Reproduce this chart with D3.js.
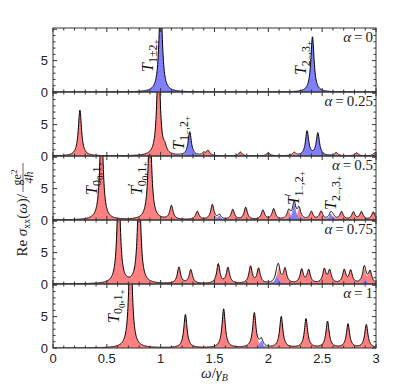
<!DOCTYPE html>
<html>
<head>
<meta charset="utf-8">
<script src="https://cdn.jsdelivr.net/npm/d3@7"></script>
<style>
  body { margin: 0; background: #fff; }
  svg { display: block; }
</style>
</head>
<body>
<div id="chart"></div>
<script>
// alpha value of every panel, top to bottom
const alphaLabels = ["0", "0.25", "0.5", "0.75", "1"];

// red (even) transitions per panel: [omega, peak height]
const redPeaks = [
    [],
    [[0.25, 7.3], [0.98, 16], [1.04, 0.9], [1.40, 0.4], [1.44, 0.8], [1.74, 0.6],
     [2.00, 0.5], [2.24, 0.5], [2.63, 0.5], [2.82, 0.5], [2.99, 0.5]],
    [[0.45, 16], [0.90, 16], [1.10, 2.2], [1.34, 1.3], [1.48, 2.4], [1.67, 1.6],
     [1.79, 1.95], [1.95, 1.5], [2.05, 1.7], [2.19, 1.35], [2.285, 1.7], [2.40, 1.25],
     [2.49, 1.3], [2.60, 0.5], [2.68, 1.25], [2.79, 1.2], [2.865, 1.25], [2.975, 1.25]],
    [[0.61, 16], [0.80, 16], [1.17, 2.6], [1.28, 2.2], [1.535, 3.1], [1.625, 2.5],
     [1.835, 2.7], [1.91, 2.35], [2.095, 2.2], [2.155, 2.3], [2.31, 2.2], [2.375, 2.1],
     [2.52, 2.2], [2.57, 2.0], [2.705, 2.1], [2.765, 2.0], [2.89, 2.2], [2.945, 1.9]],
    [[0.72, 18], [1.23, 5.3], [1.585, 6.2], [1.87, 5.5], [2.12, 4.95], [2.35, 4.6],
     [2.55, 4.2], [2.74, 3.8], [2.91, 3.7]]
];

// blue (odd) transitions per panel: [omega, peak height]
const bluePeaks = [
    [[1.0, 15], [2.41, 8.8]],
    [[1.27, 3.8], [2.36, 3.9], [2.46, 3.6]],
    [[1.545, 0.7], [2.24, 2.6], [2.58, 1.0]],
    [[2.08, 1.3], [2.90, 0.6]],
    [[1.935, 1.2]]
];

// peak labels: [panel, omega, value, subscript, primed]
// braces in the subscript mark a second subscript level
const peakLabels = [
    [0, 0.93, 3.2, "1±2{+}", false],
    [0, 2.35, 2.7, "2{−},3{+}", false],
    [1, 1.22, 0.96, "1{−},2{+}", false],
    [2, 0.41, 4.0, "0{0},1{+}", false],
    [2, 0.83, 4.0, "0{0},1{+}", true],
    [2, 2.285, 2.4, "1{−},2{+}", true],
    [2, 2.63, 1.6, "2{−},3{+}", false],
    [4, 0.61, 4.0, "0{0},1{+}", false]
];

const xTicks = [0, 0.5, 1, 1.5, 2, 2.5, 3];
const xTickLabels = ["0", "0.5", "1", "1.5", "2", "2.5", "3"];
const yTicks = [0, 5];

// dimensions
const width = 415;
const height = 391;
const plotLeft = 53, plotRight = 376;
const plotTop = 28;
const panelH = 64;
const yMax = 10.2;
const gamma = 0.018;   // lorentzian half width
const tickColor = "#333";

const svg = d3.select("#chart")
    .append("svg")
    .attr("width", width)
    .attr("height", height);

const x = d3.scaleLinear().domain([0, 3]).range([plotLeft, plotRight]);
const grid = d3.range(0, 3.0001, 0.002);

// sum of lorentzian lines
const spectrum = (peaks, w) => d3.sum(peaks, p => p[1] / (1 + ((w - p[0]) / gamma) ** 2));

alphaLabels.forEach((alpha, i) => {
    const y0 = plotTop + i * panelH;
    const y = d3.scaleLinear().domain([0, yMax]).range([y0 + panelH, y0]);
    const g = svg.append("g");

    g.append("clipPath")
        .attr("id", "clip" + i)
        .append("rect")
        .attr("x", plotLeft).attr("y", y0)
        .attr("width", plotRight - plotLeft).attr("height", panelH);

    const pts = grid.map(w => {
        const r = spectrum(redPeaks[i], w);
        const b = spectrum(bluePeaks[i], w);
        return { w: w, r: r, b: b, t: r + b };
    });

    const curves = g.append("g").attr("clip-path", "url(#clip" + i + ")");
    const area = key => d3.area().x(d => x(d.w)).y0(y(0)).y1(d => y(d[key]));

    curves.append("path")
        .attr("d", area("r")(pts))
        .attr("fill", "#ff8080");
    curves.append("path")
        .attr("d", area("b")(pts))
        .attr("fill", "#8080ff");
    curves.append("path")
        .attr("d", d3.line().x(d => x(d.w)).y(d => y(d.t))(pts))
        .attr("fill", "none")
        .attr("stroke", "#000")
        .attr("stroke-width", 1);

    // frame
    g.append("rect")
        .attr("x", plotLeft).attr("y", y0)
        .attr("width", plotRight - plotLeft).attr("height", panelH)
        .attr("fill", "none")
        .attr("stroke", tickColor)
        .attr("stroke-width", 1);

    // x ticks top and bottom, inward
    const xMinor = d3.range(0, 31).map(k => k / 10);
    xMinor.forEach(v => {
        const major = Math.abs(v * 2 - Math.round(v * 2)) < 1e-6;
        const len = major ? 4 : 2.5;
        g.append("line")
            .attr("x1", x(v)).attr("x2", x(v))
            .attr("y1", y0 + panelH).attr("y2", y0 + panelH - len)
            .attr("stroke", tickColor);
        g.append("line")
            .attr("x1", x(v)).attr("x2", x(v))
            .attr("y1", y0).attr("y2", y0 + len)
            .attr("stroke", tickColor);
    });

    // y ticks left and right
    d3.range(0, 11).forEach(v => {
        const len = v % 5 === 0 ? 4 : 2.5;
        g.append("line")
            .attr("x1", plotLeft).attr("x2", plotLeft + len)
            .attr("y1", y(v)).attr("y2", y(v))
            .attr("stroke", tickColor);
        g.append("line")
            .attr("x1", plotRight).attr("x2", plotRight - len)
            .attr("y1", y(v)).attr("y2", y(v))
            .attr("stroke", tickColor);
    });

    g.selectAll(".ylab")
        .data(yTicks)
        .enter()
        .append("text")
        .attr("x", plotLeft - 5)
        .attr("y", d => y(d) + 4.5)
        .attr("text-anchor", "end")
        .style("font-family", "Liberation Sans, Arial, sans-serif")
        .style("font-size", "13px")
        .style("fill", "#222")
        .text(d => d);

    // alpha label
    const at = g.append("text")
        .attr("x", plotRight - 3)
        .attr("y", y0 + 14)
        .attr("text-anchor", "end")
        .style("font-family", "Liberation Serif, serif")
        .style("font-size", "15px")
        .style("fill", "#222");
    at.append("tspan").style("font-style", "italic").text("α");
    at.append("tspan").attr("dx", 3).text("=");
    at.append("tspan").attr("dx", 3).text(alpha);
});

// peak labels, rotated
peakLabels.forEach(l => {
    const y = d3.scaleLinear().domain([0, yMax])
        .range([plotTop + (l[0] + 1) * panelH, plotTop + l[0] * panelH]);
    const t = svg.append("text")
        .attr("transform", "translate(" + x(l[1]) + "," + y(l[2]) + ") rotate(-90)")
        .style("font-family", "Liberation Serif, serif")
        .style("font-size", "16px")
        .style("fill", "#111");
    t.append("tspan").style("font-style", "italic").text("T");
    let level = 0;
    if (l[4]) {
        t.append("tspan").attr("dy", -6).style("font-size", "12px").text("′");
        level = -6;
    }
    // split subscript into first and second level pieces
    l[3].split(/(\{[^}]*\})/).filter(s => s.length).forEach((s, k) => {
        const deep = s[0] === "{";
        const target = deep ? 6 : 3.5;
        const ts = t.append("tspan")
            .attr("dy", target - level)
            .style("font-size", deep ? "9px" : "12px")
            .text(deep ? s.slice(1, -1) : s);
        if (k === 0 && l[4]) ts.attr("dx", -3);
        level = target;
    });
});

// x tick labels
svg.selectAll(".xlab")
    .data(xTicks)
    .enter()
    .append("text")
    .attr("x", d => x(d))
    .attr("y", plotTop + 5 * panelH + 15)
    .attr("text-anchor", "middle")
    .style("font-family", "Liberation Sans, Arial, sans-serif")
    .style("font-size", "13px")
    .style("fill", "#222")
    .text((d, i) => xTickLabels[i]);

// x axis title
const xt = svg.append("text")
    .attr("x", (plotLeft + plotRight) / 2)
    .attr("y", 378)
    .attr("text-anchor", "middle")
    .style("font-family", "Liberation Serif, serif")
    .style("font-size", "15px")
    .style("fill", "#222");
xt.append("tspan").style("font-style", "italic").text("ω");
xt.append("tspan").text("/");
xt.append("tspan").style("font-style", "italic").text("γ");
xt.append("tspan").attr("dy", 3).style("font-size", "10px").style("font-style", "italic").text("B");

// y axis title
const yt = svg.append("g")
    .attr("transform", "translate(0,212) rotate(-90)")
    .style("font-family", "Liberation Serif, serif")
    .style("fill", "#222");
const main = yt.append("text")
    .attr("x", 18)
    .attr("y", 27)
    .attr("text-anchor", "end")
    .style("font-size", "15px");
main.append("tspan").text("Re ");
main.append("tspan").style("font-style", "italic").text("σ");
main.append("tspan").attr("dy", 3).style("font-size", "10px").text("xx");
main.append("tspan").attr("dy", -3).text("(");
main.append("tspan").style("font-style", "italic").text("ω");
main.append("tspan").text(")/");
yt.append("line")
    .attr("x1", 20).attr("x2", 49)
    .attr("y1", 23).attr("y2", 23)
    .attr("stroke", "#222")
    .attr("stroke-width", 0.7);
const num = yt.append("text")
    .attr("x", 34.5).attr("y", 20.5)
    .attr("text-anchor", "middle")
    .style("font-size", "12px");
num.append("tspan").text("ge");
num.append("tspan").attr("dy", -4).style("font-size", "9px").text("2");
yt.append("text")
    .attr("x", 34.5).attr("y", 33)
    .attr("text-anchor", "middle")
    .style("font-size", "12px")
    .style("font-style", "italic")
    .text("4ħ");
</script>
</body>
</html>
